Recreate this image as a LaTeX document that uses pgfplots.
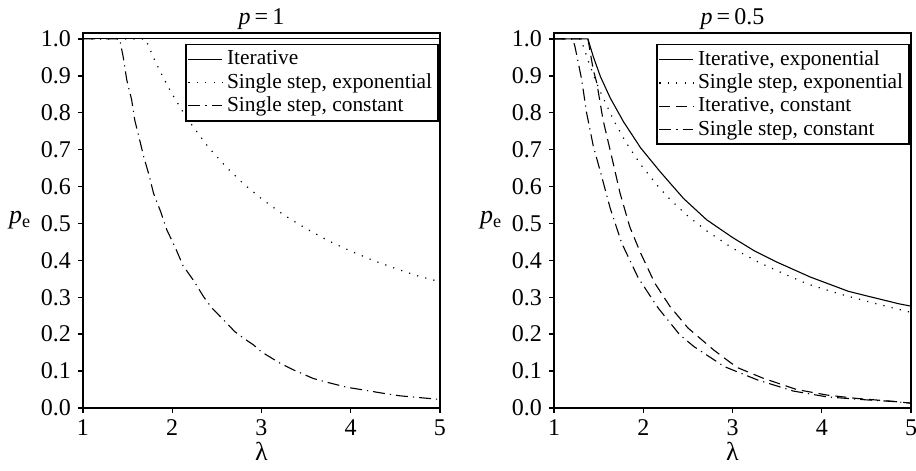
\documentclass[border=0pt]{standalone}
\usepackage{fontspec}
\setmainfont{Liberation Serif}
\usepackage{pgfplots}
\usepackage{pgfplotstable}
\pgfplotsset{compat=1.18}

% p = 1
\pgfplotstableread{
x y
1 1
5 1
}\Liter
\pgfplotstableread{
x y
1 1
1.7 1
1.8 0.944
1.9 0.895
2.0 0.850
2.1 0.810
2.2 0.773
2.4 0.708
2.6 0.654
2.8 0.607
3.0 0.567
3.25 0.523
3.5 0.486
3.75 0.453
4.0 0.425
4.25 0.400
4.5 0.378
4.75 0.358
5.0 0.342
}\Lsexp
\pgfplotstableread{
x y
1 1
1.41 1
1.45 0.952
1.49 0.889
1.545 0.835
1.58 0.780
1.63 0.731
1.68 0.681
1.74 0.631
1.79 0.582
1.87 0.532
1.94 0.482
2.03 0.437
2.12 0.386
2.24 0.345
2.35 0.302
2.44 0.272
2.57 0.240
2.70 0.207
2.80 0.189
2.91 0.171
3.0 0.152
3.21 0.121
3.36 0.103
3.58 0.080
3.73 0.070
3.96 0.056
4.14 0.049
4.36 0.040
4.55 0.033
4.78 0.028
4.96 0.024
5 0.023
}\Lscon

% p = 0.5
\pgfplotstableread{
x y
1 1
1.38 1
1.44 0.952
1.52 0.898
1.63 0.840
1.78 0.775
1.97 0.705
2.19 0.640
2.45 0.568
2.71 0.510
3.0 0.462
3.25 0.425
3.5 0.395
3.87 0.355
4.3 0.316
4.6 0.298
4.87 0.282
5 0.276
}\Riexp
\pgfplotstableread{
x y
1 1
1.3 1
1.4 0.929
1.5 0.867
1.665 0.781
1.8 0.722
1.97 0.660
2.15 0.605
2.3 0.565
2.5 0.520
2.71 0.480
3.0 0.433
3.3 0.394
3.6 0.361
3.84 0.336
4.2 0.309
4.6 0.283
4.95 0.262
5 0.259
}\Rsexp
\pgfplotstableread{
x y
1 1
1.38 1
1.44 0.916
1.48 0.880
1.55 0.780
1.65 0.677
1.74 0.582
1.85 0.490
1.97 0.420
2.13 0.338
2.30 0.275
2.50 0.217
2.79 0.157
3.05 0.110
3.35 0.080
3.72 0.050
4.06 0.035
4.39 0.026
4.8 0.018
5 0.013
}\Ricon
\pgfplotstableread{
x y
1 1
1.21 1
1.235 0.979
1.31 0.890
1.365 0.800
1.44 0.710
1.52 0.640
1.63 0.541
1.76 0.446
1.945 0.352
2.17 0.270
2.41 0.198
2.57 0.166
2.91 0.112
3.28 0.076
3.68 0.046
4.06 0.030
4.5 0.022
4.84 0.017
5 0.013
}\Rscon

\pgfplotsset{
  pe/.style={
    scale only axis,
    width=178.5pt, height=187.5pt,
    xmin=1, xmax=5, ymin=0, ymax=1.016,
    xtick={1,2,3,4,5},
    ytick={0,0.1,...,1.0},
    yticklabel style={/pgf/number format/.cd,fixed,fixed zerofill,precision=1},
    /pgf/number format/assume math mode=true,
    tick align=outside, xtick pos=bottom, ytick pos=left,
    major tick length=2.5pt,
    axis line style={line width=0.9pt},
    tick style={line width=0.7pt, black},
    ticklabel style={font=\fontsize{12}{14}\selectfont},
    label style={font=\fontsize{13}{15}\selectfont},
    title style={font=\fontsize{12}{14}\selectfont, yshift=-8pt},
    xlabel={λ},
    xlabel style={yshift=4pt},
    ylabel={\textit{p}\textsubscript{e}},
    ylabel style={rotate=-90, anchor=center, at={(axis description cs:-0.176,0.5)}},
    legend cell align=left,
    legend style={at={(rel axis cs:0.997,0.971)}, anchor=north east,
      draw=black, line width=0.8pt, inner sep=1pt,
      font=\fontsize{10.7}{11.9}\selectfont, row sep=-1.2pt},
  },
  iter/.style={black, line width=0.55pt},
  dots/.style={black, line width=0.6pt, dash pattern=on 0.6pt off 3.6pt},
  dashes/.style={black, line width=0.55pt, dash pattern=on 5.5pt off 3pt},
  dashdot/.style={black, line width=0.55pt, dash pattern=on 6pt off 2.5pt on 0.6pt off 2.5pt},
}

\begin{document}
\begin{tikzpicture}
\begin{axis}[pe, title={\textit{p}\,=\,1}]
\addplot[iter] table {\Liter};
\addlegendentry{Iterative}
\addplot[dots] table {\Lsexp};
\addlegendentry{Single step, exponential}
\addplot[dashdot] table {\Lscon};
\addlegendentry{Single step, constant}
\end{axis}
\begin{axis}[pe, at={(235.5pt,0)}, title={\textit{p}\,=\,0.5}]
\addplot[iter] table {\Riexp};
\addlegendentry{Iterative, exponential}
\addplot[dots] table {\Rsexp};
\addlegendentry{Single step, exponential}
\addplot[dashes] table {\Ricon};
\addlegendentry{Iterative, constant}
\addplot[dashdot] table {\Rscon};
\addlegendentry{Single step, constant}
\end{axis}
% inward ticks on the right edge of the second panel
\begin{axis}[scale only axis, width=178.5pt, height=187.5pt, at={(235.5pt,0)},
  xmin=1, xmax=5, ymin=0, ymax=1.016, axis lines=none,
  ytick={0,0.1,...,1.0}, yticklabels={}, xtick=\empty,
  ytick pos=right, tick align=inside, major tick length=2.5pt,
  tick style={line width=0.7pt, black}]
\end{axis}
\pgfresetboundingbox
\path[use as bounding box] (-41.5pt,-31.5pt) rectangle (416.5pt,204pt);
\end{tikzpicture}
\end{document}
